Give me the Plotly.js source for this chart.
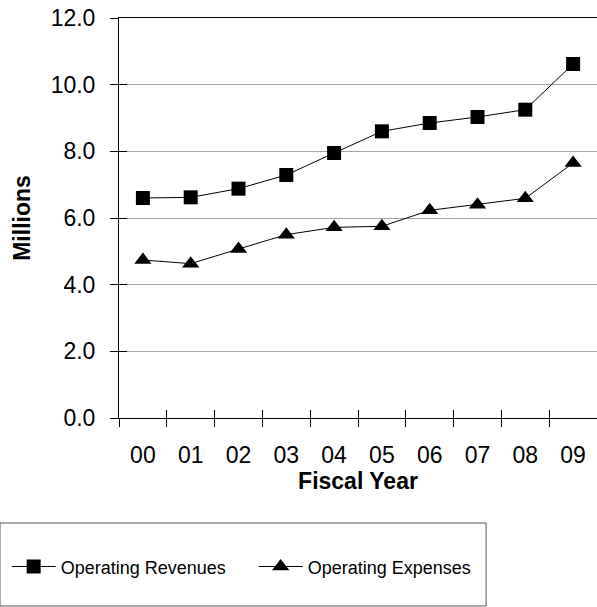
<!DOCTYPE html>
<html><head><meta charset="utf-8">
<script src="https://cdn.plot.ly/plotly-3.0.1.min.js"></script>
<style>html,body{margin:0;padding:0;background:#fff}#chart{width:597px;height:607px}</style>
</head><body><div id="chart"></div>
<script>
const years = ['00','01','02','03','04','05','06','07','08','09'];
const revenues = [6.60, 6.62, 6.88, 7.29, 7.95, 8.60, 8.85, 9.03, 9.25, 10.62];
const expenses = [4.74, 4.63, 5.07, 5.50, 5.72, 5.75, 6.23, 6.40, 6.59, 7.65];
const seriesNames = ['Operating Revenues', 'Operating Expenses'];
const yTicks = [0, 2, 4, 6, 8, 10, 12];

const FONT = 'Liberation Sans, Arial, sans-serif';

const traces = [
  {x: years, y: revenues, name: seriesNames[0], type: 'scatter', mode: 'lines+markers',
   line: {color: '#000', width: 1}, marker: {symbol: 'square', size: 14, color: '#000'}},
  {x: years, y: expenses, name: seriesNames[1], type: 'scatter', mode: 'lines+markers',
   line: {color: '#000', width: 1}, marker: {symbol: 'triangle-up', size: 15, color: '#000'}},
  {x: [], y: [], xaxis: 'x2', yaxis: 'y2', showlegend: false, hoverinfo: 'skip', type: 'scatter'}
];

const layout = {
  width: 597, height: 607,
  margin: {l: 119, r: 0, t: 18, b: 189},
  paper_bgcolor: '#fff', plot_bgcolor: '#fff',
  font: {family: FONT, color: '#000', size: 23},
  showlegend: true,
  xaxis: {
    type: 'category', range: [-0.5, 9.5], tickson: 'boundaries',
    ticks: 'outside', ticklen: 8, tickcolor: '#000', tickwidth: 1,
    showline: true, linecolor: '#000', linewidth: 1, mirror: true,
    showgrid: false, zeroline: false,
    tickfont: {family: FONT, size: 23, color: '#000'},
    ticklabelstandoff: 16,
    title: {text: '<b>Fiscal Year</b>', font: {family: FONT, size: 23, color: '#000'}, standoff: 6}
  },
  yaxis: {
    range: [0, 12], tickvals: yTicks, tickformat: '.1f',
    ticks: 'outside', ticklen: 8, tickcolor: '#000', tickwidth: 1,
    showline: true, linecolor: '#000', linewidth: 1, mirror: true,
    showgrid: true, gridcolor: '#a6a6a6', gridwidth: 1, zeroline: false,
    tickfont: {family: FONT, size: 23, color: '#000'},
    ticklabelstandoff: 10,
    title: {text: '<b>Millions</b>', font: {family: FONT, size: 23, color: '#000'}, standoff: 13}
  },
  xaxis2: {
    overlaying: 'x', anchor: 'y2', range: [-0.5, 9.5], tick0: -0.5, dtick: 1,
    ticks: 'inside', ticklen: 8, tickcolor: '#000', tickwidth: 1,
    showticklabels: false, showgrid: false, zeroline: false, showline: false
  },
  yaxis2: {
    overlaying: 'y', anchor: 'x2', range: [0, 12], tick0: 0, dtick: 2,
    ticks: 'inside', ticklen: 8, tickcolor: '#000', tickwidth: 1,
    showticklabels: false, showgrid: false, zeroline: false, showline: false
  },
  legend: {
    orientation: 'h', x: -0.235, xanchor: 'left', y: -0.372, yanchor: 'middle',
    font: {family: FONT, size: 18, color: '#000'},
    bgcolor: 'rgba(0,0,0,0)', borderwidth: 0,
    entrywidth: 188, itemwidth: 44
  },
  shapes: [
    {type: 'rect', xref: 'paper', yref: 'paper', x0: -0.249, x1: 0.768, y0: -0.47, y1: -0.2625,
     line: {color: '#555', width: 1}, fillcolor: 'rgba(0,0,0,0)'}
  ]
};

Plotly.newPlot('chart', traces, layout, {displayModeBar: false, staticPlot: true});
</script>
</body></html>
